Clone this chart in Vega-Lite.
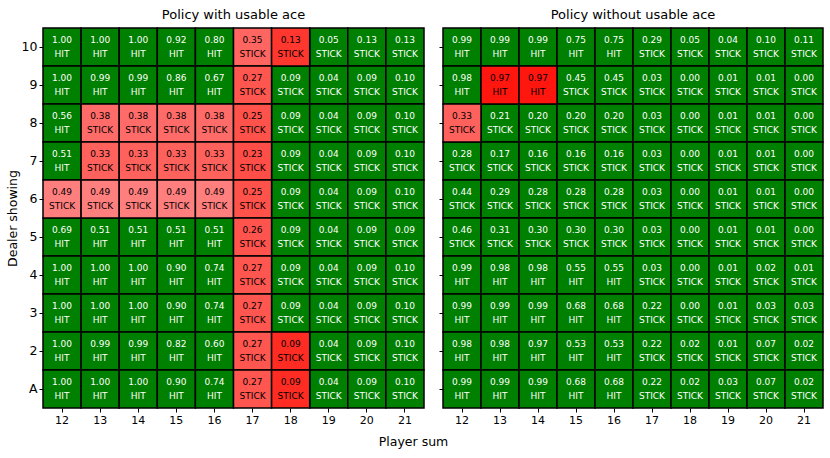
{
  "$schema": "https://vega.github.io/schema/vega-lite/v6.json",
  "background": "white",
  "padding": {"left": 6, "top": 9, "right": 5, "bottom": 5},
  "spacing": 19,
  "bounds": "flush",
  "config": {
    "font": "DejaVu Sans",
    "view": {"stroke": null},
    "title": {"fontSize": 13, "fontWeight": "normal", "color": "black", "offset": 5},
    "axis": {"labelFont": "DejaVu Sans", "titleFont": "DejaVu Sans", "labelColor": "black", "titleColor": "black", "tickColor": "black", "domain": false, "grid": false, "tickSize": 4, "labelPadding": 2, "titleFontWeight": "normal"}
  },
  "datasets": {
    "ace": [
      {"player":"12","dealer":"10","p":1.00,"action":"HIT","wrong":false},{"player":"13","dealer":"10","p":1.00,"action":"HIT","wrong":false},{"player":"14","dealer":"10","p":1.00,"action":"HIT","wrong":false},{"player":"15","dealer":"10","p":0.92,"action":"HIT","wrong":false},{"player":"16","dealer":"10","p":0.80,"action":"HIT","wrong":false},{"player":"17","dealer":"10","p":0.35,"action":"STICK","wrong":true},{"player":"18","dealer":"10","p":0.13,"action":"STICK","wrong":true},{"player":"19","dealer":"10","p":0.05,"action":"STICK","wrong":false},{"player":"20","dealer":"10","p":0.13,"action":"STICK","wrong":false},{"player":"21","dealer":"10","p":0.13,"action":"STICK","wrong":false},
      {"player":"12","dealer":"9","p":1.00,"action":"HIT","wrong":false},{"player":"13","dealer":"9","p":0.99,"action":"HIT","wrong":false},{"player":"14","dealer":"9","p":0.99,"action":"HIT","wrong":false},{"player":"15","dealer":"9","p":0.86,"action":"HIT","wrong":false},{"player":"16","dealer":"9","p":0.67,"action":"HIT","wrong":false},{"player":"17","dealer":"9","p":0.27,"action":"STICK","wrong":true},{"player":"18","dealer":"9","p":0.09,"action":"STICK","wrong":false},{"player":"19","dealer":"9","p":0.04,"action":"STICK","wrong":false},{"player":"20","dealer":"9","p":0.09,"action":"STICK","wrong":false},{"player":"21","dealer":"9","p":0.10,"action":"STICK","wrong":false},
      {"player":"12","dealer":"8","p":0.56,"action":"HIT","wrong":false},{"player":"13","dealer":"8","p":0.38,"action":"STICK","wrong":true},{"player":"14","dealer":"8","p":0.38,"action":"STICK","wrong":true},{"player":"15","dealer":"8","p":0.38,"action":"STICK","wrong":true},{"player":"16","dealer":"8","p":0.38,"action":"STICK","wrong":true},{"player":"17","dealer":"8","p":0.25,"action":"STICK","wrong":true},{"player":"18","dealer":"8","p":0.09,"action":"STICK","wrong":false},{"player":"19","dealer":"8","p":0.04,"action":"STICK","wrong":false},{"player":"20","dealer":"8","p":0.09,"action":"STICK","wrong":false},{"player":"21","dealer":"8","p":0.10,"action":"STICK","wrong":false},
      {"player":"12","dealer":"7","p":0.51,"action":"HIT","wrong":false},{"player":"13","dealer":"7","p":0.33,"action":"STICK","wrong":true},{"player":"14","dealer":"7","p":0.33,"action":"STICK","wrong":true},{"player":"15","dealer":"7","p":0.33,"action":"STICK","wrong":true},{"player":"16","dealer":"7","p":0.33,"action":"STICK","wrong":true},{"player":"17","dealer":"7","p":0.23,"action":"STICK","wrong":true},{"player":"18","dealer":"7","p":0.09,"action":"STICK","wrong":false},{"player":"19","dealer":"7","p":0.04,"action":"STICK","wrong":false},{"player":"20","dealer":"7","p":0.09,"action":"STICK","wrong":false},{"player":"21","dealer":"7","p":0.10,"action":"STICK","wrong":false},
      {"player":"12","dealer":"6","p":0.49,"action":"STICK","wrong":true},{"player":"13","dealer":"6","p":0.49,"action":"STICK","wrong":true},{"player":"14","dealer":"6","p":0.49,"action":"STICK","wrong":true},{"player":"15","dealer":"6","p":0.49,"action":"STICK","wrong":true},{"player":"16","dealer":"6","p":0.49,"action":"STICK","wrong":true},{"player":"17","dealer":"6","p":0.25,"action":"STICK","wrong":true},{"player":"18","dealer":"6","p":0.09,"action":"STICK","wrong":false},{"player":"19","dealer":"6","p":0.04,"action":"STICK","wrong":false},{"player":"20","dealer":"6","p":0.09,"action":"STICK","wrong":false},{"player":"21","dealer":"6","p":0.10,"action":"STICK","wrong":false},
      {"player":"12","dealer":"5","p":0.69,"action":"HIT","wrong":false},{"player":"13","dealer":"5","p":0.51,"action":"HIT","wrong":false},{"player":"14","dealer":"5","p":0.51,"action":"HIT","wrong":false},{"player":"15","dealer":"5","p":0.51,"action":"HIT","wrong":false},{"player":"16","dealer":"5","p":0.51,"action":"HIT","wrong":false},{"player":"17","dealer":"5","p":0.26,"action":"STICK","wrong":true},{"player":"18","dealer":"5","p":0.09,"action":"STICK","wrong":false},{"player":"19","dealer":"5","p":0.04,"action":"STICK","wrong":false},{"player":"20","dealer":"5","p":0.09,"action":"STICK","wrong":false},{"player":"21","dealer":"5","p":0.09,"action":"STICK","wrong":false},
      {"player":"12","dealer":"4","p":1.00,"action":"HIT","wrong":false},{"player":"13","dealer":"4","p":1.00,"action":"HIT","wrong":false},{"player":"14","dealer":"4","p":1.00,"action":"HIT","wrong":false},{"player":"15","dealer":"4","p":0.90,"action":"HIT","wrong":false},{"player":"16","dealer":"4","p":0.74,"action":"HIT","wrong":false},{"player":"17","dealer":"4","p":0.27,"action":"STICK","wrong":true},{"player":"18","dealer":"4","p":0.09,"action":"STICK","wrong":false},{"player":"19","dealer":"4","p":0.04,"action":"STICK","wrong":false},{"player":"20","dealer":"4","p":0.09,"action":"STICK","wrong":false},{"player":"21","dealer":"4","p":0.10,"action":"STICK","wrong":false},
      {"player":"12","dealer":"3","p":1.00,"action":"HIT","wrong":false},{"player":"13","dealer":"3","p":1.00,"action":"HIT","wrong":false},{"player":"14","dealer":"3","p":1.00,"action":"HIT","wrong":false},{"player":"15","dealer":"3","p":0.90,"action":"HIT","wrong":false},{"player":"16","dealer":"3","p":0.74,"action":"HIT","wrong":false},{"player":"17","dealer":"3","p":0.27,"action":"STICK","wrong":true},{"player":"18","dealer":"3","p":0.09,"action":"STICK","wrong":false},{"player":"19","dealer":"3","p":0.04,"action":"STICK","wrong":false},{"player":"20","dealer":"3","p":0.09,"action":"STICK","wrong":false},{"player":"21","dealer":"3","p":0.10,"action":"STICK","wrong":false},
      {"player":"12","dealer":"2","p":1.00,"action":"HIT","wrong":false},{"player":"13","dealer":"2","p":0.99,"action":"HIT","wrong":false},{"player":"14","dealer":"2","p":0.99,"action":"HIT","wrong":false},{"player":"15","dealer":"2","p":0.82,"action":"HIT","wrong":false},{"player":"16","dealer":"2","p":0.60,"action":"HIT","wrong":false},{"player":"17","dealer":"2","p":0.27,"action":"STICK","wrong":true},{"player":"18","dealer":"2","p":0.09,"action":"STICK","wrong":true},{"player":"19","dealer":"2","p":0.04,"action":"STICK","wrong":false},{"player":"20","dealer":"2","p":0.09,"action":"STICK","wrong":false},{"player":"21","dealer":"2","p":0.10,"action":"STICK","wrong":false},
      {"player":"12","dealer":"A","p":1.00,"action":"HIT","wrong":false},{"player":"13","dealer":"A","p":1.00,"action":"HIT","wrong":false},{"player":"14","dealer":"A","p":1.00,"action":"HIT","wrong":false},{"player":"15","dealer":"A","p":0.90,"action":"HIT","wrong":false},{"player":"16","dealer":"A","p":0.74,"action":"HIT","wrong":false},{"player":"17","dealer":"A","p":0.27,"action":"STICK","wrong":true},{"player":"18","dealer":"A","p":0.09,"action":"STICK","wrong":true},{"player":"19","dealer":"A","p":0.04,"action":"STICK","wrong":false},{"player":"20","dealer":"A","p":0.09,"action":"STICK","wrong":false},{"player":"21","dealer":"A","p":0.10,"action":"STICK","wrong":false}
    ],
    "noace": [
      {"player":"12","dealer":"10","p":0.99,"action":"HIT","wrong":false},{"player":"13","dealer":"10","p":0.99,"action":"HIT","wrong":false},{"player":"14","dealer":"10","p":0.99,"action":"HIT","wrong":false},{"player":"15","dealer":"10","p":0.75,"action":"HIT","wrong":false},{"player":"16","dealer":"10","p":0.75,"action":"HIT","wrong":false},{"player":"17","dealer":"10","p":0.29,"action":"STICK","wrong":false},{"player":"18","dealer":"10","p":0.05,"action":"STICK","wrong":false},{"player":"19","dealer":"10","p":0.04,"action":"STICK","wrong":false},{"player":"20","dealer":"10","p":0.10,"action":"STICK","wrong":false},{"player":"21","dealer":"10","p":0.11,"action":"STICK","wrong":false},
      {"player":"12","dealer":"9","p":0.98,"action":"HIT","wrong":false},{"player":"13","dealer":"9","p":0.97,"action":"HIT","wrong":true},{"player":"14","dealer":"9","p":0.97,"action":"HIT","wrong":true},{"player":"15","dealer":"9","p":0.45,"action":"STICK","wrong":false},{"player":"16","dealer":"9","p":0.45,"action":"STICK","wrong":false},{"player":"17","dealer":"9","p":0.03,"action":"STICK","wrong":false},{"player":"18","dealer":"9","p":0.00,"action":"STICK","wrong":false},{"player":"19","dealer":"9","p":0.01,"action":"STICK","wrong":false},{"player":"20","dealer":"9","p":0.01,"action":"STICK","wrong":false},{"player":"21","dealer":"9","p":0.00,"action":"STICK","wrong":false},
      {"player":"12","dealer":"8","p":0.33,"action":"STICK","wrong":true},{"player":"13","dealer":"8","p":0.21,"action":"STICK","wrong":false},{"player":"14","dealer":"8","p":0.20,"action":"STICK","wrong":false},{"player":"15","dealer":"8","p":0.20,"action":"STICK","wrong":false},{"player":"16","dealer":"8","p":0.20,"action":"STICK","wrong":false},{"player":"17","dealer":"8","p":0.03,"action":"STICK","wrong":false},{"player":"18","dealer":"8","p":0.00,"action":"STICK","wrong":false},{"player":"19","dealer":"8","p":0.01,"action":"STICK","wrong":false},{"player":"20","dealer":"8","p":0.01,"action":"STICK","wrong":false},{"player":"21","dealer":"8","p":0.00,"action":"STICK","wrong":false},
      {"player":"12","dealer":"7","p":0.28,"action":"STICK","wrong":false},{"player":"13","dealer":"7","p":0.17,"action":"STICK","wrong":false},{"player":"14","dealer":"7","p":0.16,"action":"STICK","wrong":false},{"player":"15","dealer":"7","p":0.16,"action":"STICK","wrong":false},{"player":"16","dealer":"7","p":0.16,"action":"STICK","wrong":false},{"player":"17","dealer":"7","p":0.03,"action":"STICK","wrong":false},{"player":"18","dealer":"7","p":0.00,"action":"STICK","wrong":false},{"player":"19","dealer":"7","p":0.01,"action":"STICK","wrong":false},{"player":"20","dealer":"7","p":0.01,"action":"STICK","wrong":false},{"player":"21","dealer":"7","p":0.00,"action":"STICK","wrong":false},
      {"player":"12","dealer":"6","p":0.44,"action":"STICK","wrong":false},{"player":"13","dealer":"6","p":0.29,"action":"STICK","wrong":false},{"player":"14","dealer":"6","p":0.28,"action":"STICK","wrong":false},{"player":"15","dealer":"6","p":0.28,"action":"STICK","wrong":false},{"player":"16","dealer":"6","p":0.28,"action":"STICK","wrong":false},{"player":"17","dealer":"6","p":0.03,"action":"STICK","wrong":false},{"player":"18","dealer":"6","p":0.00,"action":"STICK","wrong":false},{"player":"19","dealer":"6","p":0.01,"action":"STICK","wrong":false},{"player":"20","dealer":"6","p":0.01,"action":"STICK","wrong":false},{"player":"21","dealer":"6","p":0.00,"action":"STICK","wrong":false},
      {"player":"12","dealer":"5","p":0.46,"action":"STICK","wrong":false},{"player":"13","dealer":"5","p":0.31,"action":"STICK","wrong":false},{"player":"14","dealer":"5","p":0.30,"action":"STICK","wrong":false},{"player":"15","dealer":"5","p":0.30,"action":"STICK","wrong":false},{"player":"16","dealer":"5","p":0.30,"action":"STICK","wrong":false},{"player":"17","dealer":"5","p":0.03,"action":"STICK","wrong":false},{"player":"18","dealer":"5","p":0.00,"action":"STICK","wrong":false},{"player":"19","dealer":"5","p":0.01,"action":"STICK","wrong":false},{"player":"20","dealer":"5","p":0.01,"action":"STICK","wrong":false},{"player":"21","dealer":"5","p":0.00,"action":"STICK","wrong":false},
      {"player":"12","dealer":"4","p":0.99,"action":"HIT","wrong":false},{"player":"13","dealer":"4","p":0.98,"action":"HIT","wrong":false},{"player":"14","dealer":"4","p":0.98,"action":"HIT","wrong":false},{"player":"15","dealer":"4","p":0.55,"action":"HIT","wrong":false},{"player":"16","dealer":"4","p":0.55,"action":"HIT","wrong":false},{"player":"17","dealer":"4","p":0.03,"action":"STICK","wrong":false},{"player":"18","dealer":"4","p":0.00,"action":"STICK","wrong":false},{"player":"19","dealer":"4","p":0.01,"action":"STICK","wrong":false},{"player":"20","dealer":"4","p":0.02,"action":"STICK","wrong":false},{"player":"21","dealer":"4","p":0.01,"action":"STICK","wrong":false},
      {"player":"12","dealer":"3","p":0.99,"action":"HIT","wrong":false},{"player":"13","dealer":"3","p":0.99,"action":"HIT","wrong":false},{"player":"14","dealer":"3","p":0.99,"action":"HIT","wrong":false},{"player":"15","dealer":"3","p":0.68,"action":"HIT","wrong":false},{"player":"16","dealer":"3","p":0.68,"action":"HIT","wrong":false},{"player":"17","dealer":"3","p":0.22,"action":"STICK","wrong":false},{"player":"18","dealer":"3","p":0.00,"action":"STICK","wrong":false},{"player":"19","dealer":"3","p":0.01,"action":"STICK","wrong":false},{"player":"20","dealer":"3","p":0.03,"action":"STICK","wrong":false},{"player":"21","dealer":"3","p":0.03,"action":"STICK","wrong":false},
      {"player":"12","dealer":"2","p":0.98,"action":"HIT","wrong":false},{"player":"13","dealer":"2","p":0.98,"action":"HIT","wrong":false},{"player":"14","dealer":"2","p":0.97,"action":"HIT","wrong":false},{"player":"15","dealer":"2","p":0.53,"action":"HIT","wrong":false},{"player":"16","dealer":"2","p":0.53,"action":"HIT","wrong":false},{"player":"17","dealer":"2","p":0.22,"action":"STICK","wrong":false},{"player":"18","dealer":"2","p":0.02,"action":"STICK","wrong":false},{"player":"19","dealer":"2","p":0.01,"action":"STICK","wrong":false},{"player":"20","dealer":"2","p":0.07,"action":"STICK","wrong":false},{"player":"21","dealer":"2","p":0.02,"action":"STICK","wrong":false},
      {"player":"12","dealer":"A","p":0.99,"action":"HIT","wrong":false},{"player":"13","dealer":"A","p":0.99,"action":"HIT","wrong":false},{"player":"14","dealer":"A","p":0.99,"action":"HIT","wrong":false},{"player":"15","dealer":"A","p":0.68,"action":"HIT","wrong":false},{"player":"16","dealer":"A","p":0.68,"action":"HIT","wrong":false},{"player":"17","dealer":"A","p":0.22,"action":"STICK","wrong":false},{"player":"18","dealer":"A","p":0.02,"action":"STICK","wrong":false},{"player":"19","dealer":"A","p":0.03,"action":"STICK","wrong":false},{"player":"20","dealer":"A","p":0.07,"action":"STICK","wrong":false},{"player":"21","dealer":"A","p":0.02,"action":"STICK","wrong":false}
    ]
  },
  "hconcat": [
    {
      "title": "Policy with usable ace",
      "width": 381,
      "height": 380,
      "data": {"name": "ace"},
      "encoding": {
        "x": {"field": "player", "type": "ordinal", "scale": {"paddingInner": 0, "paddingOuter": 0}, "axis": {"labelAngle": 0, "labelFontSize": 11, "title": "Player sum", "titleFontSize": 12.5, "titleX": 370, "titleY": 33, "titleAlign": "center", "titleBaseline": "middle"}},
        "y": {"field": "dealer", "type": "ordinal", "sort": ["10","9","8","7","6","5","4","3","2","A"], "scale": {"paddingInner": 0, "paddingOuter": 0}, "axis": {"labelFontSize": 12.5, "title": "Dealer showing", "titleFontSize": 12.5, "titlePadding": 2}}
      },
      "layer": [
        {"mark": {"type": "rect", "fill": "#008000", "stroke": "black", "strokeWidth": 1.5}, "transform": [{"filter": "!datum.wrong"}]},
        {"mark": {"type": "rect", "stroke": "black", "strokeWidth": 1.5}, "transform": [{"filter": "datum.wrong"}],
         "encoding": {"fill": {"field": "p", "type": "quantitative", "scale": {"domain": [0, 0.5, 1], "range": ["#ff0000", "#ff8080", "#ff0000"]}, "legend": null}}},
        {"mark": {"type": "text", "fontSize": 9, "dy": -7, "font": "DejaVu Sans"},
         "encoding": {"text": {"field": "p", "type": "quantitative", "format": ".2f"}, "color": {"condition": {"test": "datum.wrong", "value": "black"}, "value": "white"}}},
        {"mark": {"type": "text", "fontSize": 9, "dy": 7, "font": "DejaVu Sans"},
         "encoding": {"text": {"field": "action"}, "color": {"condition": {"test": "datum.wrong", "value": "black"}, "value": "white"}}}
      ]
    },
    {
      "title": "Policy without usable ace",
      "width": 380,
      "height": 380,
      "data": {"name": "noace"},
      "encoding": {
        "x": {"field": "player", "type": "ordinal", "scale": {"paddingInner": 0, "paddingOuter": 0}, "axis": {"labelAngle": 0, "labelFontSize": 11, "title": null}},
        "y": {"field": "dealer", "type": "ordinal", "sort": ["10","9","8","7","6","5","4","3","2","A"], "scale": {"paddingInner": 0, "paddingOuter": 0}, "axis": {"labels": false, "title": null}}
      },
      "layer": [
        {"mark": {"type": "rect", "fill": "#008000", "stroke": "black", "strokeWidth": 1.5}, "transform": [{"filter": "!datum.wrong"}]},
        {"mark": {"type": "rect", "stroke": "black", "strokeWidth": 1.5}, "transform": [{"filter": "datum.wrong"}],
         "encoding": {"fill": {"field": "p", "type": "quantitative", "scale": {"domain": [0, 0.5, 1], "range": ["#ff0000", "#ff8080", "#ff0000"]}, "legend": null}}},
        {"mark": {"type": "text", "fontSize": 9, "dy": -7, "font": "DejaVu Sans"},
         "encoding": {"text": {"field": "p", "type": "quantitative", "format": ".2f"}, "color": {"condition": {"test": "datum.wrong", "value": "black"}, "value": "white"}}},
        {"mark": {"type": "text", "fontSize": 9, "dy": 7, "font": "DejaVu Sans"},
         "encoding": {"text": {"field": "action"}, "color": {"condition": {"test": "datum.wrong", "value": "black"}, "value": "white"}}}
      ]
    }
  ]
}
